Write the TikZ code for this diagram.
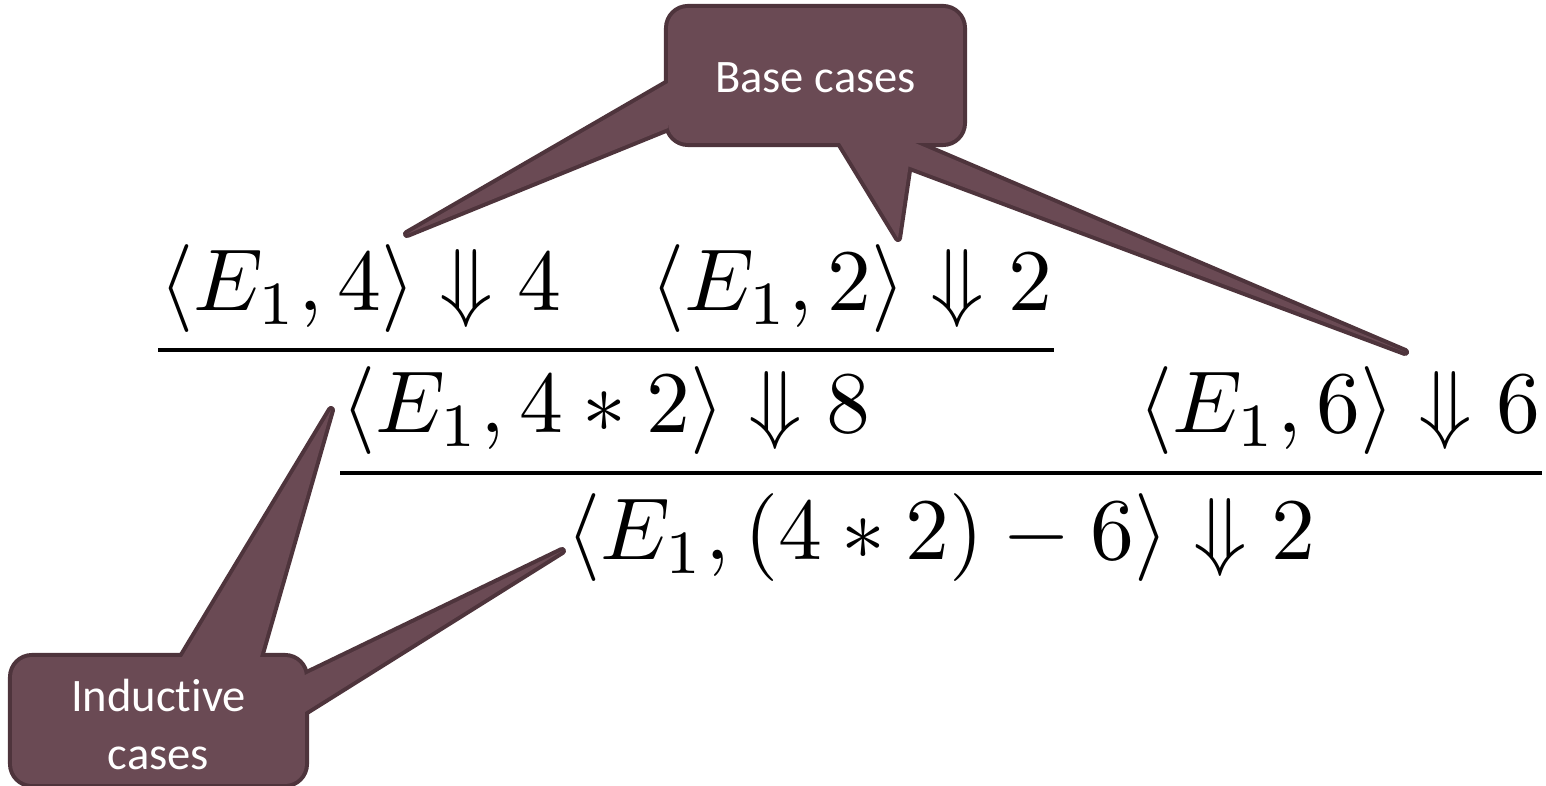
\documentclass[tikz,border=0pt]{standalone}
\usepackage{fontspec}
\newfontfamily\calloutfont[Ligatures=NoCommon]{Carlito}
\definecolor{calloutfill}{RGB}{106,74,84}
\definecolor{calloutrim}{RGB}{78,52,60}
\tikzset{
  judgement/.style={anchor=base west, inner sep=0pt, scale=5, transform shape},
  inference/.style={line width=2pt},
  callout frame/.style={inner sep=0pt, outer sep=0pt},
  callout rim/.style={fill=calloutfill, draw=calloutrim, line width=4.6pt, line join=round},
  callout body/.style={fill=calloutfill},
  callout text/.style={text=white, align=center, font=\calloutfont\fontsize{26.5}{33}\selectfont}
}

\begin{document}
\begin{tikzpicture}[x=0.02cm, y=-0.02cm]
\useasboundingbox (0,0) rectangle (1546,786);
% derivation tree
\node[judgement] (ax1) at (158,311) {$\langle E_1, 4\rangle \Downarrow 4$};
\node[judgement] (ax2) at (648.5,311) {$\langle E_1, 2\rangle \Downarrow 2$};
\node[judgement] (prem1) at (340,433) {$\langle E_1, 4 * 2\rangle \Downarrow 8$};
\node[judgement] (prem2) at (1137,433) {$\langle E_1, 6\rangle \Downarrow 6$};
\node[judgement] (concl) at (565,560) {$\langle E_1, (4 * 2) - 6\rangle \Downarrow 2$};
\draw[inference] (ax1.base west) ++(0,39) coordinate (rule1) -- (ax2.base east |- rule1);
\draw[inference] (prem1.base west) ++(0,40) coordinate (rule2) -- (prem2.base east |- rule2);

% callouts
\node[callout frame, minimum width=5.9cm, minimum height=2.7cm] (basebox) at (815.5,75.5) {};
\node[callout frame, minimum width=5.86cm, minimum height=2.54cm] (indbox) at (158.5,720.5) {};
\coordinate (tipax1) at (407,234);
\coordinate (tipax2) at (898,238);
\coordinate (tipprem2) at (1405,352);
\coordinate (tipprem1) at (331,410);
\coordinate (tipconcl) at (562,551);
\foreach \layer in {callout rim, callout body} {
  \path[\layer, rounded corners=0.4cm] (basebox.south west) rectangle (basebox.north east);
  \path[\layer] ([yshift=-0.15cm]basebox.west) -- (tipax1) -- ([yshift=-1.05cm]basebox.west) -- cycle;
  \path[\layer] ([xshift=0.49cm]basebox.south) -- (tipax2) -- ([xshift=1.93cm]basebox.south) -- cycle;
  \path[\layer] ([xshift=0.61cm]basebox.south) -- (tipprem2) -- ([xshift=1.99cm]basebox.south) -- cycle;
  \path[\layer, rounded corners=0.4cm] (indbox.south west) rectangle (indbox.north east);
  \path[\layer] ([xshift=0.47cm]indbox.north) -- (tipprem1) -- ([xshift=2.03cm]indbox.north) -- cycle;
  \path[\layer] ([yshift=0.91cm]indbox.east) -- (tipconcl) -- ([yshift=0.17cm]indbox.east) -- cycle;
}
\node[callout text, anchor=base] (basetext) at ([yshift=-0.35cm]basebox.center) {Base cases};
\node[callout text] (indtext) at ([yshift=-0.08cm]indbox.center) {Inductive\\cases};
\end{tikzpicture}
\end{document}
